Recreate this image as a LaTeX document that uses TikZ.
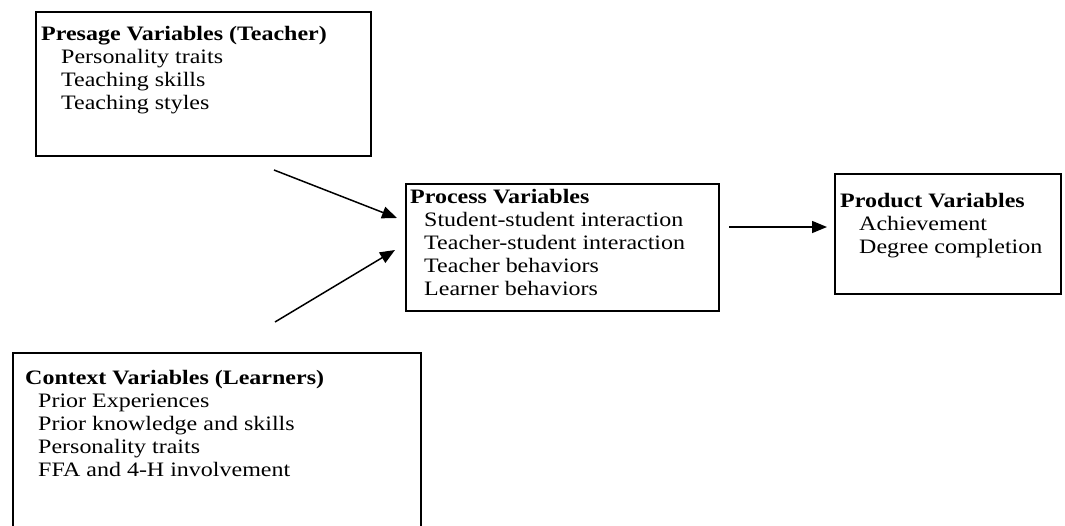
\documentclass[tikz,border=0pt]{standalone}
\usepackage{fontspec}
\setmainfont{Liberation Serif}[FakeStretch=1.17]
\usetikzlibrary{arrows.meta}
\tikzset{
  boxframe/.style={draw=black, line width=1.8pt, inner sep=0pt, anchor=north west},
  boxtext/.style={anchor=north west, inner sep=0pt, align=left, font=\fontsize{20.5}{23}\selectfont},
  arr/.style={line width=1.5pt, -{Triangle[length=15pt,width=12pt]}}
}
\newcommand{\firstline}{\rule{0pt}{15pt}}
\begin{document}
\begin{tikzpicture}[x=1pt,y=-1pt]
\useasboundingbox (0,0) rectangle (1065,525);
\clip (0,0) rectangle (1065,525);
% boxes
\node[boxframe, minimum width=335pt, minimum height=144pt] (presage) at (35,11) {};
\node[boxframe, minimum width=313pt, minimum height=127pt] (process) at (405,183) {};
\node[boxframe, minimum width=226pt, minimum height=120pt] (product) at (834,173) {};
\node[boxframe, minimum width=408pt, minimum height=200pt] (context) at (12,352) {};
% texts
\node[boxtext] (presageT) at (41,25) {\firstline\textbf{Presage Variables (Teacher)}\\
  \hspace*{20pt}Personality traits\\
  \hspace*{20pt}Teaching skills\\
  \hspace*{20pt}Teaching styles};
\node[boxtext] (processT) at (410,188) {\firstline\textbf{Process Variables}\\
  \hspace*{14pt}Student-student interaction\\
  \hspace*{14pt}Teacher-student interaction\\
  \hspace*{14pt}Teacher behaviors\\
  \hspace*{14pt}Learner behaviors};
\node[boxtext] (productT) at (840,192) {\firstline\textbf{Product Variables}\\
  \hspace*{19pt}Achievement\\
  \hspace*{19pt}Degree completion};
\node[boxtext] (contextT) at (25,369) {\firstline\textbf{Context Variables (Learners)}\\
  \hspace*{13pt}Prior Experiences\\
  \hspace*{13pt}Prior knowledge and skills\\
  \hspace*{13pt}Personality traits\\
  \hspace*{13pt}FFA and 4-H involvement};
% connectors
\coordinate (a1s) at (274,170);
\coordinate (a1e) at (397,218);
\coordinate (a2s) at (275,322);
\coordinate (a2e) at (395,250);
\coordinate (a3s) at (729,227);
\coordinate (a3e) at (827,227);
\draw[arr] (a1s) -- (a1e);
\draw[arr] (a2s) -- (a2e);
\draw[arr] (a3s) -- (a3e);
\end{tikzpicture}
\end{document}
